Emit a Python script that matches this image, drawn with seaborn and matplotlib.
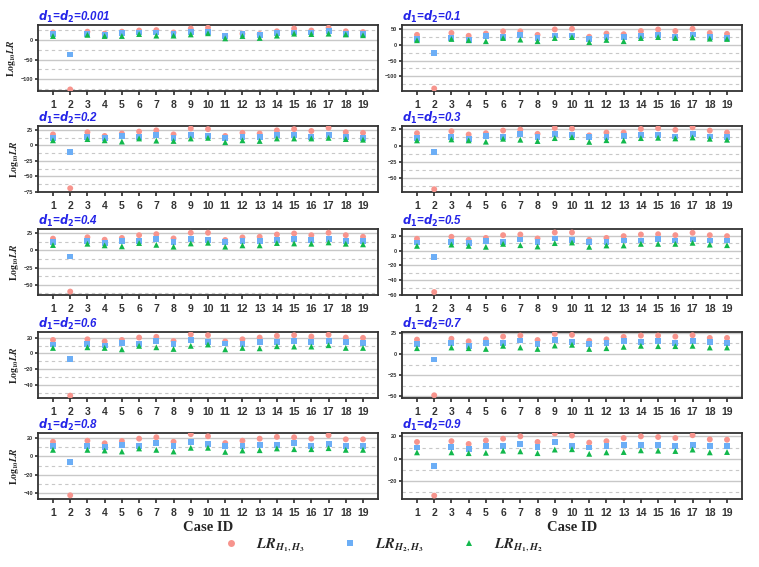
import numpy as np
import pandas as pd
import seaborn as sns
import matplotlib.pyplot as plt
from matplotlib.ticker import MultipleLocator
from matplotlib.lines import Line2D
from matplotlib.font_manager import FontProperties

nan = np.nan

# Case IDs and panel settings (d1 = d2)
cases = list(range(1, 20))
d_labels = ["0.001", "0.1", "0.2", "0.3", "0.4", "0.5", "0.6", "0.7", "0.8", "0.9"]

# log10 LR values, one list per series and panel
lr13_0001 = [19, -126, 21, 16, 21, 24, 25, 19, 29, 31, 10, 16, 15, 22, 29, 24, 31, 22, 20]
lr23_0001 = [15, -37, 16, 12, 17, 19, 19, 15, 21, 21, 9, 14, 12, 17, 19, 19, 22, 16, 16]
lr12_0001 = [10, nan, 13, 10, 10, 15, 11, 11, 14, 17, 4, 10, 5, 11, 16, 15, 16, 14, 12]

lr13_01 = [31, -138, 37, 28, 35, 42, 42, 31, 48, 50, 25, 35, 33, 43, 48, 43, 50, 37, 34]
lr23_01 = [19, -26, 21, 16, 26, 25, 31, 20, 29, 29, 19, 25, 24, 28, 30, 25, 32, 23, 20]
lr12_01 = [14, nan, 18, 14, 11, 21, 16, 11, 21, 24, 8, 15, 11, 21, 24, 21, 23, 19, 18]

lr13_02 = [17.5, -69, 21, 15, 19, 22, 24, 17.5, 27, 26, 15, 20, 19, 24, 26, 23, 28, 21, 20]
lr23_02 = [12, -11, 13, 12, 15, 13, 17, 12, 17, 15, 12, 13, 13, 16, 16, 14, 17, 13, 12]
lr12_02 = [8, nan, 10, 8, 6, 11, 7.5, 7, 11, 12, 5, 8, 7, 11, 11, 11, 12, 10, 9]

lr13_03 = [19, -66.7, 22, 17, 19, 23, 24.5, 18, 27, 26, 15.6, 20, 20, 25.5, 26.5, 24, 28, 23, 20]
lr23_03 = [11.5, -10, 13.5, 10.5, 14.5, 13.5, 17.7, 12.5, 17.7, 15.6, 12.5, 13.5, 15, 16, 16, 14, 17.7, 14, 13.5]
lr12_03 = [8, nan, 9.5, 8, 6, 10.5, 9, 7, 11.5, 13, 5.7, 8.3, 7.8, 11.5, 12, 11, 12.5, 10.5, 9]

lr13_04 = [17, -60, 19, 15.4, 18, 22, 23.5, 17.3, 25.5, 25.5, 15, 18.8, 19.7, 23, 24.5, 22, 25.5, 22, 19.7]
lr23_04 = [11.5, -9, 13, 11, 14, 13.5, 16, 12.5, 16, 15.4, 12.5, 13.5, 14, 14.4, 16, 14.4, 16, 13.5, 13.5]
lr12_04 = [7.7, nan, 9.6, 7.2, 5.8, 10.6, 8, 5.3, 10, 11, 5.3, 7.2, 7.2, 10.6, 10, 9.6, 11.5, 9.6, 8.7]

lr13_05 = [15.8, -56, 18.5, 14.4, 17, 20.7, 21.6, 16.2, 24.3, 24.3, 14.4, 17, 19.4, 21.6, 22, 20.7, 23.9, 20.7, 19.4]
lr23_05 = [10.8, -8.6, 12, 10, 13, 11.7, 14.9, 11.7, 16.2, 14, 11.7, 11.7, 13.5, 13.5, 15.3, 13.5, 14.9, 13.5, 13.5]
lr12_05 = [6.3, nan, 8, 6.3, 5, 9, 7.2, 5.4, 10, 10.8, 5, 6.8, 6.8, 9, 9, 9, 10.4, 8, 7.2]

lr13_06 = [17, -53, 17.8, 15.2, 17, 20, 20.9, 15.6, 24, 23, 15.2, 17.8, 20, 22.2, 23, 21.3, 23.5, 20, 19.6]
lr23_06 = [11.3, -7.4, 12.2, 10, 13.5, 12.2, 15.6, 12.2, 16.5, 14.8, 12.6, 12.2, 13.9, 14.8, 15.2, 13.9, 15.6, 13.9, 13]
lr12_06 = [7, nan, 7.8, 7, 5.2, 9.6, 7.8, 5.7, 9.6, 11.3, 5.2, 7, 6.5, 9.1, 8.7, 8.7, 10.4, 7, 7]

lr13_07 = [17, -48.8, 18, 15, 17.3, 20.6, 21.8, 16.5, 23.8, 22.6, 15.7, 17.3, 20.2, 21.8, 21.8, 20.6, 22.2, 19, 19]
lr23_07 = [11.7, -6.5, 12.5, 9.7, 13.3, 12.9, 16, 12, 16.5, 14.5, 11.7, 12.5, 14.9, 14.5, 15.3, 12.9, 15.7, 14.1, 12.9]
lr12_07 = [6.9, nan, 7.7, 6.9, 6, 9.7, 7.7, 6, 10, 10.9, 6, 6.9, 8.5, 9.7, 9.3, 9.3, 9.7, 7.7, 7.7]

lr13_08 = [15.6, -42, 16.7, 13.9, 16.4, 18.9, 20.4, 15.6, 23.7, 21.5, 14.2, 16.7, 18.9, 20.8, 20.4, 18.9, 22.6, 18.2, 18.2]
lr23_08 = [11, -6, 11, 9.5, 12, 11, 14.5, 11, 15, 13, 11, 11, 12, 12, 14, 11, 13, 11, 11]
lr12_08 = [6.9, nan, 6.9, 6.2, 5.1, 8.4, 6.9, 5.1, 9.1, 9.1, 4.7, 6.2, 6.5, 8.4, 7.6, 7.6, 8.7, 6.9, 6.9]

lr13_09 = [15, -33, 15.7, 13.2, 16.3, 17.9, 20, 15, 22.6, 20.7, 14.4, 15.7, 18.5, 20, 19.4, 18.5, 21, 17.3, 17]
lr23_09 = [10, -6.3, 10.4, 8.5, 11, 11, 13, 10.4, 15, 11.6, 10, 11, 12, 12, 12, 11, 12.5, 11.6, 11]
lr12_09 = [5.7, nan, 5.7, 5, 5.3, 7.2, 6.6, 5, 8.2, 8.5, 4.4, 5.7, 6, 7.5, 7.2, 6.9, 8.2, 5.7, 6]

panels = [
    (lr13_0001, lr23_0001, lr12_0001), (lr13_01, lr23_01, lr12_01),
    (lr13_02, lr23_02, lr12_02), (lr13_03, lr23_03, lr12_03),
    (lr13_04, lr23_04, lr12_04), (lr13_05, lr23_05, lr12_05),
    (lr13_06, lr23_06, lr12_06), (lr13_07, lr23_07, lr12_07),
    (lr13_08, lr23_08, lr12_08), (lr13_09, lr23_09, lr12_09),
]

# axis ranges and major step per panel
y_limits = [(-130, 38), (-146, 62), (-75, 31), (-71, 30), (-65, 31),
            (-60, 29), (-56, 27), (-52, 26), (-46, 25), (-36, 23)]
y_steps = [50, 50, 25, 25, 25, 20, 20, 25, 20, 20]

series = ["LR13", "LR23", "LR12"]
palette = {"LR13": "#F7948D", "LR23": "#6CAEF6", "LR12": "#12B84C"}
markers = {"LR13": "o", "LR23": "s", "LR12": "^"}
legend_labels = [
    r"$\mathbfit{LR}_{\mathbfit{H}_{\mathbf{1}},\mathbfit{H}_{\mathbf{3}}}$",
    r"$\mathbfit{LR}_{\mathbfit{H}_{\mathbf{2}},\mathbfit{H}_{\mathbf{3}}}$",
    r"$\mathbfit{LR}_{\mathbfit{H}_{\mathbf{1}},\mathbfit{H}_{\mathbf{2}}}$",
]

sns.set_theme(style="white")
plt.rcParams["font.family"] = ["Liberation Sans", "DejaVu Sans"]

fig = plt.figure(figsize=(7.59, 5.67), dpi=100)
W, H = 759, 567
col_left = [38, 402]
row_tops = [25, 126, 229, 332, 433]
ax_w, ax_h = 340, 66

for i, (d, vals) in enumerate(zip(d_labels, panels)):
    r, c = divmod(i, 2)
    ax = fig.add_axes([col_left[c] / W, 1 - (row_tops[r] + ax_h) / H, ax_w / W, ax_h / H])

    df = pd.DataFrame({
        "case": cases * 3,
        "value": vals[0] + vals[1] + vals[2],
        "series": [s for s in series for _ in cases],
    })
    sns.scatterplot(data=df, x="case", y="value", hue="series", style="series",
                    hue_order=series, style_order=series, palette=palette,
                    markers=markers, s=18, linewidth=0, legend=False, ax=ax, zorder=3)

    ax.set_xlim(0.13, 19.87)
    ax.set_ylim(*y_limits[i])
    ax.set_xticks(cases)
    ax.set_xticklabels([str(k) for k in cases], fontsize=7.5, fontweight="bold", color="#222222")
    ax.yaxis.set_major_locator(MultipleLocator(y_steps[i]))
    ax.yaxis.set_minor_locator(MultipleLocator(y_steps[i] / 2))
    ax.tick_params(axis="y", which="major", labelsize=4, length=2, pad=1.5,
                   colors="#333333", left=True)
    ax.tick_params(axis="y", which="minor", length=0)
    ax.tick_params(axis="x", length=3, pad=3.5, colors="#333333", bottom=True)
    for lab in ax.get_yticklabels():
        lab.set_fontweight("bold")

    ax.set_axisbelow(True)
    ax.yaxis.grid(True, which="major", color="#C8C8C8", lw=1.0, ls="-")
    ax.yaxis.grid(True, which="minor", color="#C8C8C8", lw=0.8, ls=(0, (3, 3)))
    ax.xaxis.grid(False)
    for sp in ax.spines.values():
        sp.set_color("#333333")
        sp.set_linewidth(1.3)

    ax.set_title(r"$\mathbfit{d}_{\mathbf{1}}$=$\mathbfit{d}_{\mathbf{2}}$=" + d,
                 loc="left", pad=3, fontsize=8.3, fontweight="bold", fontstyle="italic",
                 color="#2424E8", math_fontfamily="dejavusans")

    if c == 0:
        ax.set_ylabel(r"$\mathbf{Log}_{\mathbf{10}}\mathbfit{LR}$", fontsize=7,
                      labelpad=2, math_fontfamily="stix")
    else:
        ax.set_ylabel("")
    if r == 4:
        ax.set_xlabel("Case ID", fontsize=10.5, fontweight="bold",
                      family="Liberation Serif", labelpad=2)
    else:
        ax.set_xlabel("")

handles = [Line2D([], [], marker=markers[s], ls="", color=palette[s], markersize=5,
                  markeredgewidth=0) for s in series]
fig.legend(handles, legend_labels, loc="center", bbox_to_anchor=(0.5, 1 - 545 / H),
           ncol=3, frameon=False, columnspacing=2.1, handletextpad=0.7,
           prop=FontProperties(family="Liberation Serif", size=10.5, math_fontfamily="stix"))

fig.savefig("out.png", dpi=100)
